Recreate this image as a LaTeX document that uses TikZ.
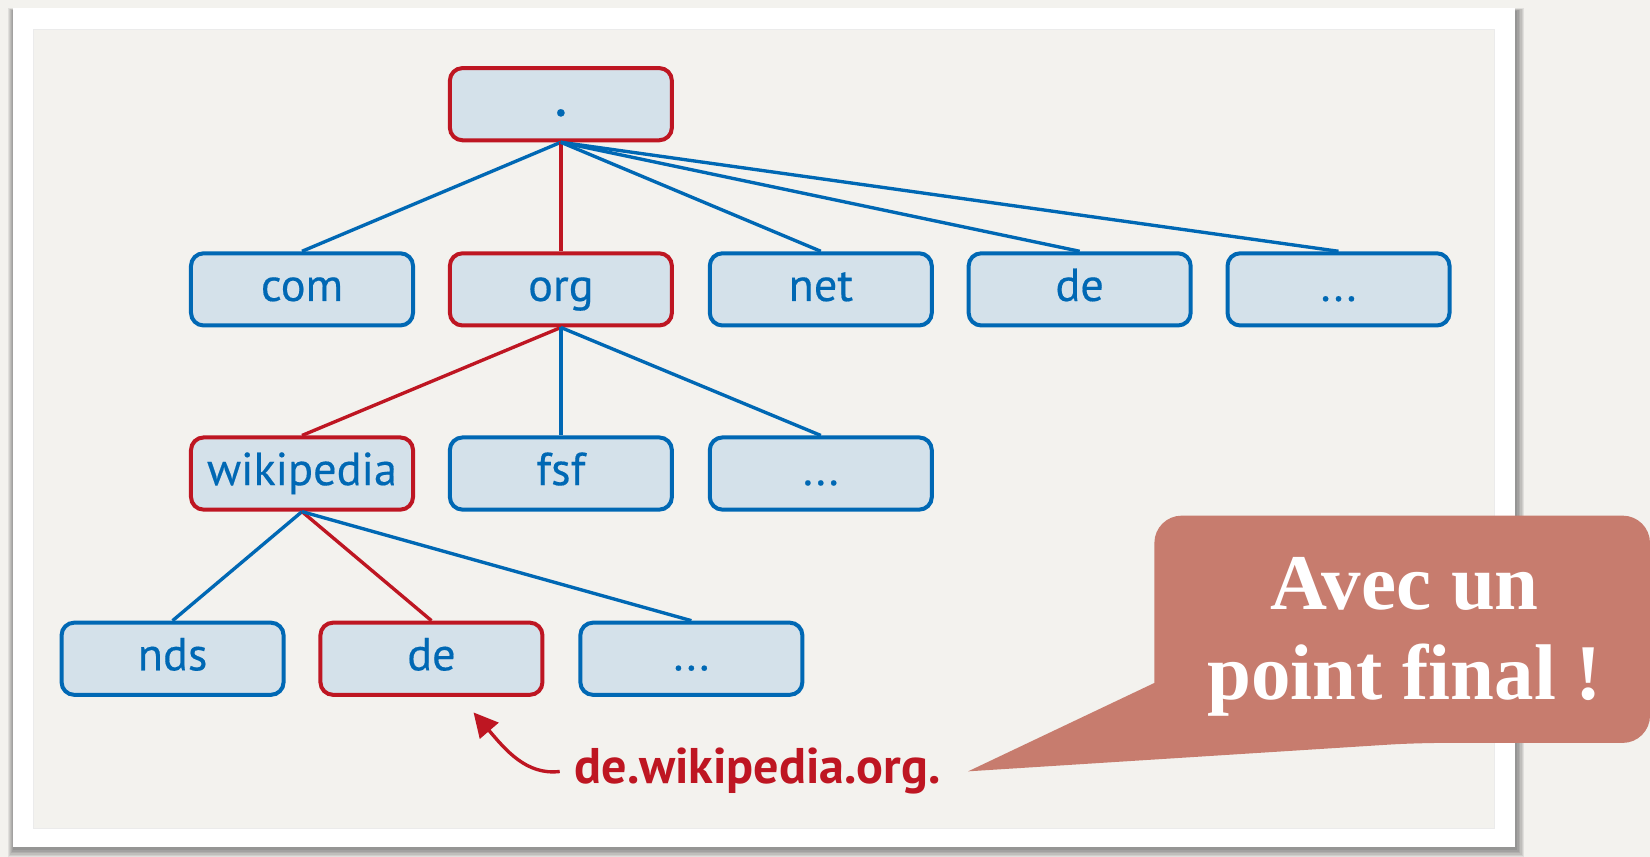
\documentclass[tikz,border=0pt]{standalone}
\usepackage{fontspec}
\setmainfont{PT Sans}
\newfontface\nodefont{PT Sans}[FakeBold=0.35]
\newfontfamily\callfont{Liberation Serif}
\usetikzlibrary{arrows.meta}
\definecolor{dnsblue}{HTML}{0068B4}
\definecolor{dnsred}{HTML}{BE1622}
\definecolor{boxfill}{HTML}{D4E1EA}
\definecolor{paper}{HTML}{F3F2EE}
\definecolor{callcol}{HTML}{C77C6E}
\begin{document}
\begin{tikzpicture}[x=0.5pt,y=-0.5pt,
  dnsbox/.style={draw=dnsblue, fill=boxfill, line width=1.9pt, rounded corners=6pt,
    minimum width=105.5pt, minimum height=34.3pt, inner sep=0pt,
    text=dnsblue, font=\nodefont\fontsize{22pt}{26pt}\selectfont, text height=14pt, text depth=3pt},
  redbox/.style={dnsbox, draw=dnsred},
  blueedge/.style={draw=dnsblue, line width=1.6pt},
  rededge/.style={draw=dnsred, line width=1.6pt},
  lblstyle/.style={text=dnsred, font=\bfseries\fontsize{23.8pt}{28pt}\selectfont, inner sep=7pt},
  calltext/.style={text=white, font=\callfont\bfseries\fontsize{37.5pt}{43pt}\selectfont, inner sep=0pt}
]
\useasboundingbox (0,0) rectangle (1568,814);
\fill[paper] (0,0) rectangle (1568,814);
% frame shadow
\foreach \k in {0,...,5}
  \fill[black, opacity=0.075] (12-\k*0.8,8+2-\k*0.4) rectangle (1440+2+\k*1.3,805+3+\k*1.4);
\fill[white] (12,8) rectangle (1440,805);
\fill[paper, draw=black!8, line width=0.5pt] (32,28) rectangle (1420,787);

% nodes
\node[redbox] (root) at (533,99) {{\fontsize{30pt}{30pt}\selectfont .}};
\node[dnsbox] (com) at (287,275) {com};
\node[redbox] (org) at (533,275) {org};
\node[dnsbox] (net) at (780,275) {net};
\node[dnsbox] (de1) at (1026,275) {de};
\node[dnsbox] (dots1) at (1272,275) {...};
\node[redbox] (wiki) at (287,450) {wikipedia};
\node[dnsbox] (fsf) at (533,450) {fsf};
\node[dnsbox] (dots2) at (780,450) {...};
\node[dnsbox] (nds) at (164,626) {nds};
\node[redbox] (de2) at (410,626) {de};
\node[dnsbox] (dots3) at (657,626) {...};

% edges
\draw[blueedge] (root.south) -- (com.north);
\draw[rededge] (root.south) -- (org.north);
\draw[blueedge] (root.south) -- (net.north);
\draw[blueedge] (root.south) -- (de1.north);
\draw[blueedge] (root.south) -- (dots1.north);
\draw[rededge] (org.south) -- (wiki.north);
\draw[blueedge] (org.south) -- (fsf.north);
\draw[blueedge] (org.south) -- (dots2.north);
\draw[blueedge] (wiki.south) -- (nds.north);
\draw[rededge] (wiki.south) -- (de2.north);
\draw[blueedge] (wiki.south) -- (dots3.north);

% label and arrow
\node[lblstyle, anchor=base] (lbl) at (720,745) {de.wikipedia.org.};
\coordinate (tip) at (450,677);
\draw[rededge, -{Triangle[length=11.5pt,width=11.5pt]}] (lbl.west) .. controls (500,737) and (480,712) .. (tip);

% callout
\coordinate (ctip) at (920,733);
\fill[callcol] (1097,649) [rounded corners=13pt] -- (1097,490) -- (1568,490) -- (1568,706) -- (1345,706) [sharp corners] -- (ctip) -- cycle;
\node[calltext, anchor=base] (call1) at (1335,579) {Avec un};
\node[calltext, anchor=base] (call2) at (1335,665) {point final !};
\end{tikzpicture}
\end{document}
